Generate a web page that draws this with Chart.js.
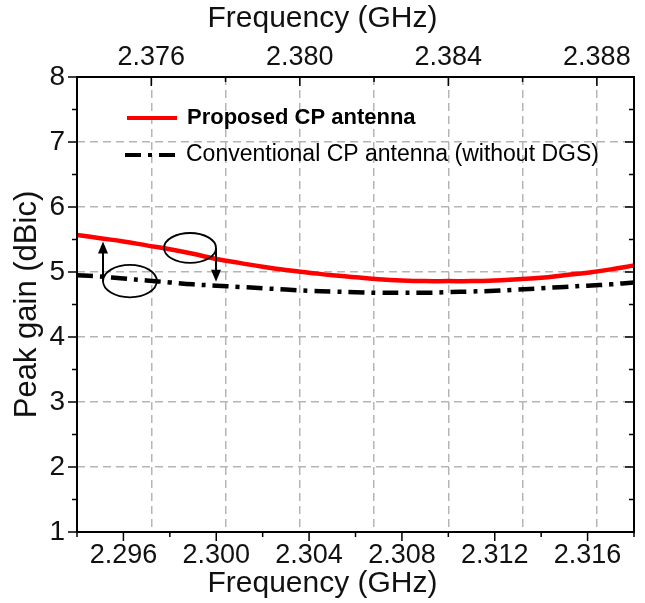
<!DOCTYPE html>
<html>
<head>
<meta charset="utf-8">
<script src="https://cdn.jsdelivr.net/npm/chart.js@4.4.1/dist/chart.umd.min.js"></script>
<style>
  html, body { margin: 0; padding: 0; background: #fff; }
  #wrap { width: 645px; height: 603px; }
</style>
</head>
<body>
<div id="wrap"><canvas id="gain-chart"></canvas></div>
<script>
// lower axis frequency (GHz) and peak gain (dBic)
const freqGHz = [2.294, 2.295, 2.296, 2.297, 2.298, 2.299, 2.300, 2.301, 2.302, 2.303, 2.304, 2.305, 2.306,
                 2.307, 2.308, 2.309, 2.310, 2.311, 2.312, 2.313, 2.314, 2.315, 2.316, 2.317, 2.318];
const proposedGain = [5.57, 5.52, 5.47, 5.41, 5.35, 5.28, 5.20, 5.14, 5.08, 5.03, 4.99, 4.95, 4.92,
                      4.89, 4.87, 4.86, 4.86, 4.86, 4.87, 4.89, 4.91, 4.95, 4.99, 5.04, 5.10];
const conventionalGain = [4.95, 4.93, 4.90, 4.87, 4.84, 4.81, 4.79, 4.77, 4.75, 4.73, 4.71, 4.70, 4.69,
                          4.68, 4.68, 4.68, 4.69, 4.70, 4.71, 4.73, 4.75, 4.77, 4.79, 4.81, 4.84];

// axis ticks
const bottomTicks = [2.294, 2.296, 2.298, 2.300, 2.302, 2.304, 2.306, 2.308, 2.310, 2.312, 2.314, 2.316, 2.318];
const topTicks = [2.376, 2.378, 2.380, 2.382, 2.384, 2.386, 2.388];
const gainTicks = [1, 1.5, 2, 2.5, 3, 3.5, 4, 4.5, 5, 5.5, 6, 6.5, 7, 7.5, 8];

const seriesLabels = ['Proposed CP antenna', 'Conventional CP antenna (without DGS)'];
const freqTitle = 'Frequency (GHz)';

// ellipses / arrows marking which curve belongs to which axis (data units)
const noteEllipses = [
    { x: 2.29628, y: 4.86, rx: 0.00116, ry: 0.25 },
    { x: 2.29887, y: 5.37, rx: 0.00112, ry: 0.23 }
];
const noteArrows = [
    { x: 2.29512, from: 4.86, to: 5.47 },
    { x: 2.29999, from: 5.37, to: 4.85 }
];

const FONT = "'Liberation Sans', Arial, sans-serif";
const GRID = '#b5b5b5';
const DASH_DOT = [16, 7, 4, 7];

const extras = {
    id: 'extras',
    afterDatasetsDraw(chart) {
        const { ctx, chartArea: a, scales, width, height } = chart;
        const xs = scales.x, x2 = scales.x2, ys = scales.y;
        ctx.save();

        // frame
        ctx.strokeStyle = '#000';
        ctx.lineWidth = 2;
        ctx.strokeRect(a.left, a.top, a.right - a.left, a.bottom - a.top);

        // tick marks
        ctx.lineWidth = 1.5;
        ctx.beginPath();
        bottomTicks.forEach((v, i) => {
            const px = xs.getPixelForValue(v);
            const len = i % 2 ? 9 : 5;
            ctx.moveTo(px, a.bottom); ctx.lineTo(px, a.bottom + len);
        });
        topTicks.forEach((v, i) => {
            const px = x2.getPixelForValue(v);
            const len = i % 2 ? 5 : 9;
            ctx.moveTo(px, a.top); ctx.lineTo(px, a.top + len);
        });
        gainTicks.forEach(v => {
            const py = ys.getPixelForValue(v);
            const len = Number.isInteger(v) ? 9 : 5;
            ctx.moveTo(a.left - len, py); ctx.lineTo(a.left, py);
            ctx.moveTo(a.right, py); ctx.lineTo(a.right - len, py);
        });
        ctx.stroke();

        // ellipses
        ctx.lineWidth = 1.8;
        noteEllipses.forEach(e => {
            const cx = xs.getPixelForValue(e.x), cy = ys.getPixelForValue(e.y);
            const rx = xs.getPixelForValue(e.x + e.rx) - cx;
            const ry = cy - ys.getPixelForValue(e.y + e.ry);
            ctx.beginPath();
            ctx.ellipse(cx, cy, rx, ry, 0, 0, Math.PI * 2);
            ctx.stroke();
        });

        // arrows
        ctx.lineWidth = 2;
        noteArrows.forEach(ar => {
            const px = xs.getPixelForValue(ar.x);
            const y0 = ys.getPixelForValue(ar.from), y1 = ys.getPixelForValue(ar.to);
            const dir = y1 < y0 ? 1 : -1;
            ctx.beginPath();
            ctx.moveTo(px, y0); ctx.lineTo(px, y1 + dir * 8);
            ctx.stroke();
            ctx.beginPath();
            ctx.moveTo(px, y1);
            ctx.lineTo(px - 5, y1 + dir * 12);
            ctx.lineTo(px + 5, y1 + dir * 12);
            ctx.closePath();
            ctx.fillStyle = '#000';
            ctx.fill();
        });

        // legend
        const lx = a.left + 50, ly1 = a.top + 41, ly2 = a.top + 78;
        ctx.lineWidth = 4;
        ctx.strokeStyle = '#ff0000';
        ctx.beginPath(); ctx.moveTo(lx, ly1); ctx.lineTo(lx + 50, ly1); ctx.stroke();
        ctx.strokeStyle = '#000';
        ctx.setLineDash(DASH_DOT);
        ctx.beginPath(); ctx.moveTo(lx - 2, ly2); ctx.lineTo(lx + 51, ly2); ctx.stroke();
        ctx.setLineDash([]);
        ctx.fillStyle = '#000';
        ctx.textBaseline = 'middle';
        ctx.textAlign = 'left';
        ctx.font = 'bold 22px ' + FONT;
        ctx.fillText(seriesLabels[0], lx + 60, ly1);
        ctx.font = '23px ' + FONT;
        ctx.fillText(seriesLabels[1], lx + 59, ly2);

        // frequency titles, centred on the whole figure
        ctx.fillStyle = '#111';
        ctx.textAlign = 'center';
        ctx.font = '30px ' + FONT;
        ctx.fillText(freqTitle, width / 2, 19);
        ctx.fillText(freqTitle, width / 2, height - 19);

        ctx.restore();
    }
};

const ctx = document.getElementById('gain-chart');
new Chart(ctx, {
    type: 'line',
    data: {
        datasets: [{
            label: seriesLabels[0],
            data: freqGHz.map((f, i) => ({ x: f, y: proposedGain[i] })),
            borderColor: '#ff0000',
            borderWidth: 4.5,
            pointRadius: 0,
            tension: 0.4,
            xAxisID: 'x',
            yAxisID: 'y'
        }, {
            label: seriesLabels[1],
            data: freqGHz.map((f, i) => ({ x: f, y: conventionalGain[i] })),
            borderColor: '#000',
            borderWidth: 4.5,
            borderDash: DASH_DOT,
            pointRadius: 0,
            tension: 0.4,
            xAxisID: 'x',
            yAxisID: 'y'
        }]
    },
    options: {
        responsive: true,
        maintainAspectRatio: false,
        animation: false,
        layout: { padding: { left: 0, right: 11, top: 0, bottom: 0 } },
        plugins: {
            legend: { display: false },
            tooltip: { enabled: false }
        },
        scales: {
            x: {
                type: 'linear',
                position: 'bottom',
                min: 2.294,
                max: 2.318,
                afterBuildTicks: s => { s.ticks = bottomTicks.map(v => ({ value: v })); },
                afterFit: s => { s.height = 71; },
                grid: { display: false, drawTicks: false },
                border: { display: false },
                ticks: {
                    autoSkip: false,
                    maxRotation: 0,
                    padding: 7,
                    color: '#111',
                    font: { family: FONT, size: 27 },
                    callback: (v, i) => i % 2 ? v.toFixed(3) : ''
                }
            },
            x2: {
                type: 'linear',
                position: 'top',
                min: 2.374,
                max: 2.389,
                afterBuildTicks: s => { s.ticks = topTicks.map(v => ({ value: v })); },
                afterFit: s => { s.height = 77; },
                grid: {
                    color: GRID,
                    lineWidth: 1.5,
                    drawTicks: false
                },
                border: { display: false, dash: [8, 5] },
                ticks: {
                    autoSkip: false,
                    maxRotation: 0,
                    padding: 3,
                    color: '#111',
                    font: { family: FONT, size: 27 },
                    callback: (v, i) => i % 2 ? '' : v.toFixed(3)
                }
            },
            y: {
                type: 'linear',
                position: 'left',
                min: 1,
                max: 8,
                afterBuildTicks: s => { s.ticks = gainTicks.map(v => ({ value: v })); },
                afterFit: s => { s.width = 77; },
                grid: {
                    color: c => (c.tick && Number.isInteger(c.tick.value) && c.tick.value > 1 && c.tick.value < 8) ? GRID : 'rgba(0,0,0,0)',
                    lineWidth: 1.5,
                    drawTicks: false
                },
                border: { display: false, dash: [8, 5] },
                ticks: {
                    autoSkip: false,
                    padding: 12,
                    color: '#111',
                    font: { family: FONT, size: 28 },
                    callback: v => Number.isInteger(v) ? String(v) : ''
                },
                title: {
                    display: true,
                    text: 'Peak gain (dBic)',
                    color: '#111',
                    padding: { top: 9, bottom: 0 },
                    font: { family: FONT, size: 31 }
                }
            }
        }
    },
    plugins: [extras]
});
</script>
</body>
</html>
